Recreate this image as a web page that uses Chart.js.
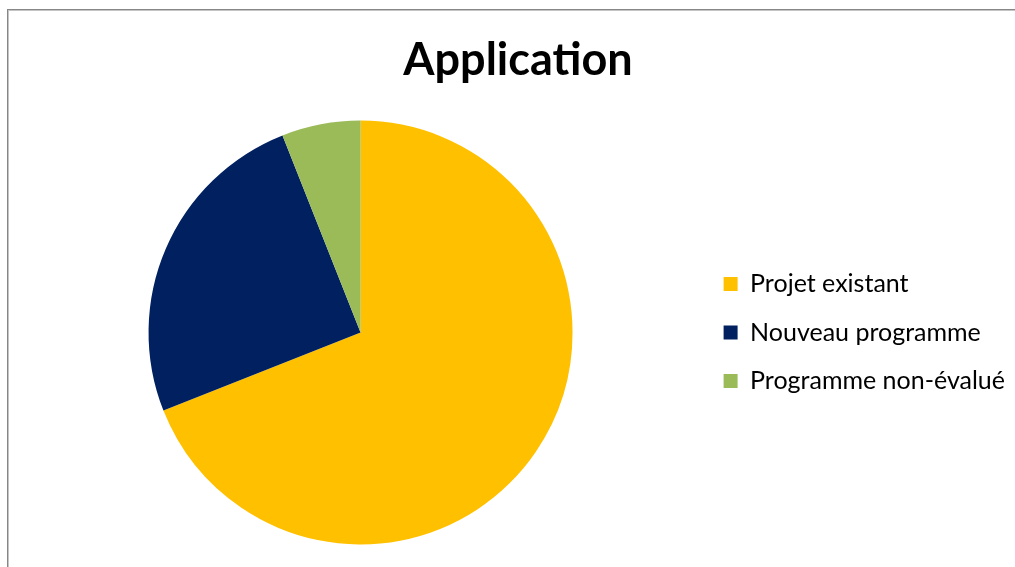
<!DOCTYPE html>
<html>
<head>
<meta charset="utf-8">
<script src="https://cdn.jsdelivr.net/npm/chart.js@4"></script>
<style>
  html, body { margin: 0; padding: 0; overflow: hidden; background: #fff; }
  #frame {
    position: absolute; left: 7px; top: 9px; width: 2000px; height: 2000px;
    border-left: 1px solid #878787; border-top: 1px solid #878787;
    box-shadow: inset 1px 1px 0 #c4c4c4;
  }
  #chart { position: absolute; left: 0; top: 0; }
</style>
</head>
<body>
<div id="frame"></div>
<canvas id="chart" width="1015" height="567"></canvas>
<script>
const labels = ["Projet existant", "Nouveau programme", "Programme non-évalué"];
const values = [69, 25, 6];
const colors = ["#FFC000", "#002060", "#9BBB59"];

const ctx = document.getElementById("chart").getContext("2d");

const chart = new Chart(ctx, {
  type: "pie",
  data: {
    labels: labels,
    datasets: [
      {
        data: values,
        backgroundColor: colors,
        borderWidth: 0,
        hoverOffset: 0,
        offset: 0
      }
    ]
  },
  options: {
    responsive: false,
    animation: false,
    devicePixelRatio: 1,
    layout: {
      padding: { left: 21, right: 0, top: 0, bottom: 22.5 }
    },
    plugins: {
      title: {
        display: true,
        text: "Application",
        color: "#000",
        font: { family: "Lato", size: 45, weight: "bold", lineHeight: 1.2 },
        padding: { top: 33, bottom: 33.5 }
      },
      legend: {
        position: "right",
        fullSize: false,
        labels: {
          color: "#000",
          font: { family: "Lato", size: 25 },
          boxWidth: 14,
          boxHeight: 14,
          padding: 23.5
        }
      },
      tooltip: { enabled: false }
    }
  }
});
</script>
</body>
</html>
